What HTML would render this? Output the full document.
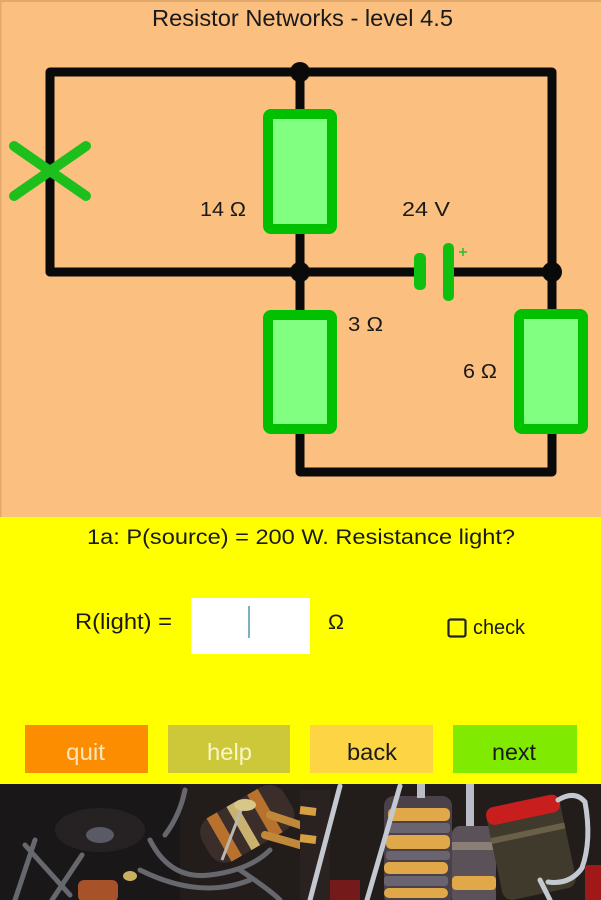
<!DOCTYPE html>
<html><head><meta charset="utf-8"><style>
html,body{margin:0;padding:0;background:#fbbf80;}
svg{display:block;}
text{font-family:"Liberation Sans",sans-serif;}
</style></head><body>
<svg width="601" height="900" viewBox="0 0 601 900" xmlns="http://www.w3.org/2000/svg">
<rect x="0" y="0" width="601" height="517" fill="#fbbf80"/>
<rect x="0" y="0" width="601" height="2" fill="#e2a96c"/>
<rect x="0" y="0" width="1.5" height="517" fill="#e2a96c"/>
<text x="152" y="26" font-size="23" fill="#1a1a1a" textLength="301" lengthAdjust="spacingAndGlyphs">Resistor Networks - level 4.5</text>

<!-- wires -->
<g stroke="#0a0a0a" stroke-width="9" fill="none" stroke-linejoin="round" stroke-linecap="round">
<polyline points="50,272 50,72 552,72 552,310"/>
<line x1="50" y1="272" x2="416" y2="272"/>
<line x1="452" y1="272" x2="552" y2="272"/>
<line x1="300" y1="72" x2="300" y2="110"/>
<line x1="300" y1="233" x2="300" y2="311"/>
<polyline points="300,433 300,472 552,472 552,433"/>
</g>
<g fill="#0a0a0a">
<circle cx="300" cy="72" r="10"/>
<circle cx="300" cy="272" r="10"/>
<circle cx="552" cy="272" r="10"/>
</g>

<!-- resistors -->
<g fill="#80ff80" stroke="#00c000" stroke-width="10">
<rect x="268" y="114" width="64" height="115" rx="3"/>
<rect x="268" y="315" width="64" height="114" rx="3"/>
<rect x="519" y="314" width="64" height="115" rx="3"/>
</g>

<!-- battery -->
<rect x="414" y="253" width="12" height="37" rx="5" fill="#10c010"/>
<rect x="443" y="243" width="11" height="58" rx="5" fill="#10c010"/>
<g stroke="#33bb33" stroke-width="1.6"><line x1="459" y1="252" x2="467" y2="252"/><line x1="463" y1="248" x2="463" y2="256"/></g>

<!-- X lamp -->
<g stroke="#1cbf1c" stroke-width="10" stroke-linecap="round">
<line x1="14" y1="146" x2="86" y2="196"/>
<line x1="14" y1="196" x2="86" y2="146"/>
</g>

<g font-size="20" fill="#1a1a1a">
<text x="200" y="216" textLength="46" lengthAdjust="spacingAndGlyphs">14 Ω</text>
<text x="402" y="216" textLength="48" lengthAdjust="spacingAndGlyphs">24 V</text>
<text x="348" y="331" textLength="35" lengthAdjust="spacingAndGlyphs">3 Ω</text>
<text x="463" y="378" textLength="34" lengthAdjust="spacingAndGlyphs">6 Ω</text>
</g>

<!-- yellow panel -->
<rect x="0" y="517" width="601" height="267" fill="#ffff00"/>
<text x="87" y="544" font-size="21" fill="#1a1a1a" textLength="428" lengthAdjust="spacingAndGlyphs">1a: P(source) = 200 W. Resistance light?</text>
<text x="75" y="629" font-size="22" fill="#1a1a1a" textLength="97" lengthAdjust="spacingAndGlyphs">R(light) =</text>
<rect x="191" y="598" width="119" height="56" fill="#ffffff"/>
<rect x="248" y="606" width="2" height="32" fill="#7fb0c0"/>
<text x="328" y="629" font-size="21" fill="#1a1a1a" textLength="16" lengthAdjust="spacingAndGlyphs">Ω</text>
<rect x="448.5" y="619.5" width="17" height="17" rx="2" fill="none" stroke="#222" stroke-width="2.2"/>
<text x="473" y="634" font-size="20" fill="#1a1a1a" textLength="52" lengthAdjust="spacingAndGlyphs">check</text>

<!-- buttons -->
<rect x="25" y="725" width="123" height="48" fill="#fc8c00"/>
<rect x="168" y="725" width="122" height="48" fill="#cdc83a"/>
<rect x="310" y="725" width="123" height="48" fill="#fdd444"/>
<rect x="453" y="725" width="124" height="48" fill="#80ea00"/>
<g font-size="23">
<text x="66" y="760" fill="#fde6bc" textLength="39" lengthAdjust="spacingAndGlyphs">quit</text>
<text x="207" y="760" fill="#f8f6c8" textLength="45" lengthAdjust="spacingAndGlyphs">help</text>
<text x="347" y="760" fill="#1a1a1a" textLength="50" lengthAdjust="spacingAndGlyphs">back</text>
<text x="492" y="760" fill="#1a1a1a" textLength="44" lengthAdjust="spacingAndGlyphs">next</text>
</g>

<!-- photo of resistors -->
<g>
<rect x="0" y="784" width="601" height="116" fill="#221d1b"/>
<rect x="0" y="784" width="180" height="116" fill="#1a1718"/>
<ellipse cx="100" cy="830" rx="45" ry="22" fill="#262224"/>
<ellipse cx="100" cy="835" rx="14" ry="8" fill="#5a5a66"/>
<!-- left grey wires -->
<g stroke="#66686e" stroke-width="5" fill="none" stroke-linecap="round">
<line x1="35" y1="840" x2="15" y2="900"/>
<line x1="25" y1="845" x2="70" y2="895"/>
<line x1="82" y1="855" x2="52" y2="900"/>
<path d="M185,790 Q180,815 165,835"/>
<path d="M150,840 Q170,880 210,875 Q250,870 270,850"/>
<path d="M140,870 Q200,900 250,880"/>
<path d="M240,870 Q270,890 280,900"/>
</g>
<!-- upper resistor (left half) -->
<g transform="rotate(-30 245 825)">
<rect x="200" y="800" width="95" height="50" rx="18" fill="#3b2e2a"/>
<rect x="215" y="800" width="12" height="50" fill="#b8722e"/>
<rect x="238" y="800" width="10" height="50" fill="#c9b270"/>
<rect x="262" y="800" width="12" height="50" fill="#b8722e"/>
</g>
<g stroke="#c08838" stroke-width="8" stroke-linecap="round">
<line x1="270" y1="815" x2="300" y2="825"/>
<line x1="265" y1="835" x2="300" y2="845"/>
</g>
<line x1="245" y1="800" x2="222" y2="860" stroke="#b9b7b0" stroke-width="3"/>
<ellipse cx="245" cy="805" rx="11" ry="6" fill="#d8c888"/>
<!-- bottom-left orange resistor -->
<rect x="78" y="880" width="40" height="22" rx="6" fill="#a8522a"/>
<ellipse cx="130" cy="876" rx="7" ry="5" fill="#c8b060"/>

<!-- right half -->
<rect x="300" y="790" width="30" height="110" fill="#2a2220"/>
<g stroke="#d8a040" stroke-width="8">
<line x1="300" y1="810" x2="316" y2="812"/>
<line x1="300" y1="838" x2="316" y2="840"/>
</g>
<!-- big striped resistor -->
<rect x="384" y="796" width="68" height="110" rx="10" fill="#4a4248"/>
<g fill="#e0a848">
<rect x="388" y="808" width="62" height="13" rx="5"/>
<rect x="386" y="835" width="64" height="14" rx="5"/>
<rect x="384" y="862" width="64" height="12" rx="5"/>
<rect x="384" y="888" width="64" height="10" rx="5"/>
</g>
<g fill="#6a6470">
<rect x="388" y="823" width="62" height="10" rx="3"/>
<rect x="386" y="851" width="64" height="9" rx="3"/>
<rect x="384" y="876" width="64" height="10" rx="3"/>
</g>
<rect x="417" y="784" width="8" height="14" fill="#b8bcc4"/>
<!-- second resistor -->
<rect x="452" y="826" width="44" height="80" rx="8" fill="#5a5258"/>
<rect x="452" y="842" width="44" height="8" fill="#8a7e76"/>
<rect x="452" y="876" width="44" height="14" rx="4" fill="#e0a848"/>
<rect x="466" y="784" width="8" height="42" fill="#b8bcc4"/>
<!-- dark red resistor -->
<g transform="rotate(-12 530 840)">
<rect x="492" y="800" width="75" height="95" rx="10" fill="#3f3a2c"/>
<rect x="492" y="800" width="75" height="18" rx="8" fill="#c81e1e"/>
<rect x="492" y="830" width="75" height="6" fill="#6a6048"/>
</g>
<!-- silver diagonal wires -->
<g stroke="#c4c8d0" stroke-width="5" stroke-linecap="round" fill="none">
<line x1="340" y1="786" x2="310" y2="900"/>
<line x1="400" y1="786" x2="367" y2="900"/>
<path d="M558,800 Q575,790 585,802 Q592,840 582,868 Q570,885 548,882"/>
<line x1="540" y1="880" x2="550" y2="900"/>
</g>
<rect x="585" y="865" width="16" height="35" fill="#a01818"/>
<rect x="330" y="880" width="30" height="20" fill="#8a1a1a" opacity="0.8"/>
</g>
</svg>
</body></html>
